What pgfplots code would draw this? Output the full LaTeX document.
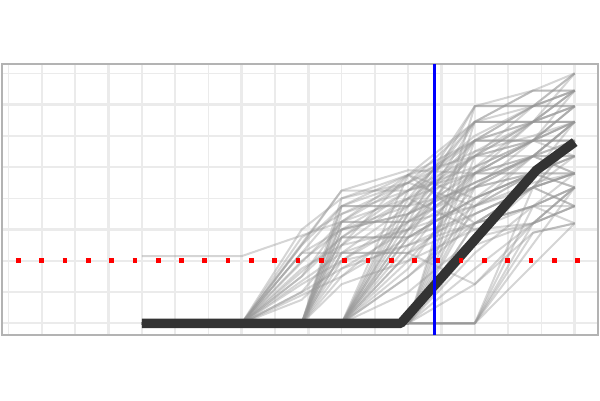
\documentclass[border=0pt]{standalone}
\usepackage{pgfplots}
\pgfplotsset{compat=1.18}
\definecolor{gridc}{RGB}{235,235,235}
\definecolor{borderc}{RGB}{179,179,179}
\definecolor{spag}{RGB}{150,150,150}
\definecolor{meanc}{RGB}{51,51,51}
\begin{document}
\begin{tikzpicture}[x=1pt,y=1pt]
\path[use as bounding box] (0,0) rectangle (600,400);
\begin{axis}[
  at={(2pt,65pt)}, anchor=south west,
  scale only axis, width=596pt, height=271pt,
  xmin=-0.2, xmax=17.7, ymin=-0.75, ymax=16.6,
  xtick={1,3,...,17}, minor xtick={0,2,...,16},
  ytick={2,6,10,14}, minor ytick={0,4,8,12,16},
  xticklabels={}, yticklabels={},
  major tick length=0pt, minor tick length=0pt,
  grid=both,
  major grid style={draw=gridc, line width=2.6pt},
  minor grid style={draw=gridc, line width=1.6pt},
  axis line style={draw=borderc, line width=1.4pt},
  spaghetti/.style={draw=spag, draw opacity=0.4, line width=2pt, line join=round},
]
\addplot[spaghetti] coordinates {(4,0)(7,0)(10,8.5)(12,8.5)(14,10)(15.75,12.9)(17,14.9)};
\addplot[spaghetti] coordinates {(4,0)(7,0)(8.8,5)(10,7.5)(12,7.5)(14,11.7)(15.75,13.9)(17,16)};
\addplot[spaghetti] coordinates {(4,0)(7,0)(8.8,3)(10,6.5)(12,6.5)(14,9)(15.75,10.7)(17,12.9)};
\addplot[spaghetti] coordinates {(4,0)(7,0)(10,5.5)(12,5.5)(14,8)(15.75,9.6)(17,10.7)};
\addplot[spaghetti] coordinates {(4,0)(7,0)(8.8,4.5)(10,4.5)(12,6)(14,7.5)(15.75,9)(17,9.6)};
\addplot[spaghetti] coordinates {(4,0)(7,0)(10,3)(12,6.5)(14,10)(15.75,11.7)(17,11.7)};
\addplot[spaghetti] coordinates {(4,0)(7,0)(8.8,2)(10,5)(12,8)(14,12.9)(15.75,12.9)(17,13.9)};
\addplot[spaghetti] coordinates {(4,4.3)(7,4.3)(10,6.5)(12,8)(14,9.6)(15.75,9.6)(17,8.7)};
\addplot[spaghetti] coordinates {(4,0)(7,0)(8.8,5.5)(10,7)(12,9)(14,11)(15.75,12)(17,12.9)};
\addplot[spaghetti] coordinates {(4,0)(8.8,0)(10,7.5)(12,7.5)(14,8.7)(15.75,10.7)(17,11.7)};
\addplot[spaghetti] coordinates {(4,0)(8.8,0)(10,6.5)(12,6.5)(14,13.9)(15.75,13.9)(17,14.9)};
\addplot[spaghetti] coordinates {(4,0)(8.8,0)(10,5.5)(12,5.5)(14,7)(15.75,8.7)(17,9.6)};
\addplot[spaghetti] coordinates {(4,0)(8.8,0)(10,4.5)(12,4.5)(14,6.4)(15.75,7.5)(17,8.7)};
\addplot[spaghetti] coordinates {(4,0)(8.8,0)(10,3.5)(12,5)(14,9.6)(15.75,11.7)(17,12.9)};
\addplot[spaghetti] coordinates {(4,0)(8.8,0)(10,2.5)(12,4)(14,6)(15.75,6.4)(17,7.5)};
\addplot[spaghetti] coordinates {(4,0)(8.8,0)(10,6)(12,7)(14,11.7)(15.75,11.7)(17,13.9)};
\addplot[spaghetti] coordinates {(4,0)(8.8,0)(10,8)(12,9.5)(14,10.7)(15.75,12.9)(17,16)};
\addplot[spaghetti] coordinates {(4,0)(10,0)(12,7.5)(14,12.9)(15.75,12.9)(17,14.9)};
\addplot[spaghetti] coordinates {(4,0)(10,0)(12,6)(14,9.6)(15.75,11.7)(17,12.9)};
\addplot[spaghetti] coordinates {(4,0)(10,0)(12,4.5)(14,7.5)(15.75,9.6)(17,11.7)};
\addplot[spaghetti] coordinates {(4,0)(10,0)(12,3)(14,6.4)(15.75,7.5)(17,8.7)};
\addplot[spaghetti] coordinates {(4,0)(10,0)(12,5.5)(14,11.7)(15.75,11.7)(17,13.9)};
\addplot[spaghetti] coordinates {(4,0)(10,0)(12,2)(14,5.5)(15.75,6.4)(17,7.5)};
\addplot[spaghetti] coordinates {(4,0)(10,0)(12,8.5)(14,10.7)(15.75,13.9)(17,13.9)};
\addplot[spaghetti] coordinates {(4,0)(10,0)(12,4)(14,8.7)(15.75,10.7)(17,10.7)};
\addplot[spaghetti] coordinates {(4,0)(12,0)(14,13.9)(15.75,13.9)(17,16)};
\addplot[spaghetti] coordinates {(4,0)(12,0)(14,9.6)(15.75,10.7)(17,12.9)};
\addplot[spaghetti] coordinates {(4,0)(12,0)(14,5.5)(15.75,8.7)(17,9.6)};
\addplot[spaghetti] coordinates {(4,0)(12,0)(14,3.5)(15.75,6.4)(17,7.5)};
\addplot[spaghetti] coordinates {(4,0)(12,0)(14,11.7)(15.75,12.9)(17,12.9)};
\addplot[spaghetti] coordinates {(4,0)(12,0)(14,7.5)(15.75,9.6)(17,10.7)};
\addplot[spaghetti] coordinates {(4,0)(12,0)(14,12.9)(15.75,14.9)(17,14.9)};
\addplot[spaghetti] coordinates {(4,0)(14,0)(15.75,6.4)(17,8.7)};
\addplot[spaghetti] coordinates {(4,0)(14,0)(15.75,7.5)(17,7.5)};
\addplot[spaghetti] coordinates {(4,0)(14,0)(15.75,5.8)(17,6.4)};
\addplot[spaghetti] coordinates {(4,0)(14,0)(17,8.7)};
\addplot[spaghetti] coordinates {(4,0)(14,0)(15.75,8.7)(17,9.6)};
\addplot[spaghetti] coordinates {(4,0)(14,0)(17,6.4)};
\addplot[spaghetti] coordinates {(4,0)(7,0)(8.8,3.5)(10,5)(12,9.5)(14,6.4)(15.75,8.7)(17,11.7)};
\addplot[spaghetti] coordinates {(4,0)(7,0)(8.8,6)(10,8)(12,9)(14,12.9)(15.75,14.9)(17,16)};
\addplot[spaghetti] coordinates {(4,0)(7,0)(8.8,1.5)(10,4)(12,5)(14,7)(15.75,8.7)(17,7.5)};
\addplot[spaghetti] coordinates {(4,0)(8.8,0)(10,7)(12,8.5)(14,9.6)(15.75,10.7)(17,10.7)};
\addplot[spaghetti] coordinates {(4,0)(10,0)(12,6.5)(14,8.7)(15.75,9.6)(17,9.6)};
\addplot[spaghetti] coordinates {(4,0)(10,0)(12,7)(14,10.7)(15.75,11.7)(17,14.9)};
\addplot[spaghetti] coordinates {(4,0)(12,0)(14,6.4)(15.75,7.5)(17,6.4)};
\addplot[spaghetti] coordinates {(4,0)(12,0)(14,8.7)(15.75,11.7)(17,11.7)};
\addplot[spaghetti] coordinates {(4,0)(8.8,0)(10,5)(12,6)(14,12.9)(15.75,12.9)(17,12.9)};
\addplot[spaghetti] coordinates {(4,0)(7,0)(10,7.5)(12,9)(14,11.7)(15.75,13.9)(17,13.9)};
\addplot[spaghetti] coordinates {(4,0)(7,0)(8.8,4)(10,6)(12,7.5)(14,10.7)(15.75,10.7)(17,9.6)};
\addplot[spaghetti] coordinates {(4,0)(10,0)(12,3.5)(14,9.6)(15.75,9.6)(17,10.7)};
\addplot[spaghetti] coordinates {(4,0)(12,0)(14,10.7)(15.75,11.7)(17,13.9)};
\addplot[spaghetti] coordinates {(4,0)(8.8,0)(10,3)(12,5.5)(14,8)(15.75,9.6)(17,8.7)};
\addplot[spaghetti] coordinates {(4,0)(10,0)(12,5)(14,6.4)(15.75,8.7)(17,11.7)};
\addplot[spaghetti] coordinates {(4,0)(7,0)(8.8,4.5)(10,6)(12,7)(14,9.6)(15.75,12.9)(17,12.9)};
\addplot[spaghetti] coordinates {(4,0)(12,0)(14,4.5)(15.75,7.5)(17,8.7)};
\addplot[spaghetti] coordinates {(4,0)(10,0)(12,9.5)(14,12.9)(15.75,13.9)(17,14.9)};
\addplot[spaghetti] coordinates {(4,0)(8.8,0)(10,4.5)(12,7.5)(14,13.9)(15.75,14.9)(17,14.9)};
\addplot[spaghetti] coordinates {(4,0)(12,0)(14,2.5)(15.75,5.8)(17,6.4)};
\addplot[spaghetti] coordinates {(4,0)(7,0)(8.8,5)(10,8.5)(12,9.8)(14,9.6)(15.75,11.7)(17,10.7)};
\addplot[spaghetti] coordinates {(4,0)(10,0)(12,8)(14,6)(15.75,7.5)(17,9.6)};
\addplot[spaghetti] coordinates {(4,0)(8.8,0)(10,6.5)(12,9)(14,7.5)(15.75,10.7)(17,12.9)};
\addplot[spaghetti] coordinates {(4,0)(7,0)(10,4.5)(12,4.5)(14,2.5)(15.75,6.4)(17,8.7)};
\addplot[spaghetti] coordinates {(4,0)(7,0)(8.8,2.5)(10,4)(12,7)(14,9)(15.75,10.7)(17,11.7)};
\addplot[spaghetti] coordinates {(4,0)(8.8,0)(10,5.5)(12,8.5)(14,11.7)(15.75,12.9)(17,13.9)};
\addplot[spaghetti] coordinates {(4,0)(10,0)(12,6)(14,11)(15.75,12.9)(17,14.9)};
\addplot[spaghetti] coordinates {(4,0)(7,0)(10,6.5)(12,9.5)(14,8)(15.75,9.6)(17,9.6)};
\addplot[spaghetti] coordinates {(4,0)(10,0)(12,4.5)(14,10)(15.75,11.7)(17,11.7)};
\addplot[spaghetti] coordinates {(4,0)(8.8,0)(10,4)(12,6.5)(14,7.5)(15.75,8.7)(17,10.7)};
\addplot[spaghetti] coordinates {(4,0)(12,0)(14,8)(15.75,9.6)(17,12.9)};
\addplot[spaghetti] coordinates {(4,0)(7,0)(8.8,3)(10,5.5)(12,8)(14,10.7)(15.75,12.9)(17,13.9)};
\addplot[spaghetti] coordinates {(4,0)(10,0)(12,7)(14,9)(15.75,10.7)(17,9.6)};
\addplot[spaghetti] coordinates {(4,0)(8.8,0)(10,6)(12,8.5)(14,12)(15.75,13.9)(17,14.9)};
\addplot[spaghetti] coordinates {(4,0)(12,0)(14,6.4)(15.75,8.7)(17,7.5)};
\addplot[spaghetti] coordinates {(4,0)(10,0)(12,5.5)(14,8)(15.75,10.7)(17,12.9)};
\addplot[spaghetti] coordinates {(4,0)(7,0)(8.8,2)(10,3.5)(12,6)(14,8.7)(15.75,9.6)(17,11.7)};
\addplot[spaghetti] coordinates {(4,0)(8.8,0)(10,7.5)(12,9.5)(14,11.7)(15.75,11.7)(17,12.9)};
\addplot[spaghetti] coordinates {(4,0)(12,0)(14,5)(15.75,6.4)(17,8.7)};
\addplot[spaghetti] coordinates {(4,0)(10,0)(12,3)(14,7)(15.75,8.7)(17,9.6)};
% mean trajectory
\addplot[draw=meanc, line width=9.5pt, line join=round, line cap=butt] coordinates {(4,0)(11.78,0)(15.85,9.8)(17,11.6)};
% threshold
\addplot[draw=red, line width=4.7pt, line cap=butt, dash pattern=on 4.7pt off 18.6pt, dash phase=9.3pt] coordinates {(-0.2,4)(17.7,4)};
% reference time
\addplot[draw=blue, line width=2.8pt] coordinates {(12.8,-0.75)(12.8,16.6)};
\end{axis}
\end{tikzpicture}
\end{document}
